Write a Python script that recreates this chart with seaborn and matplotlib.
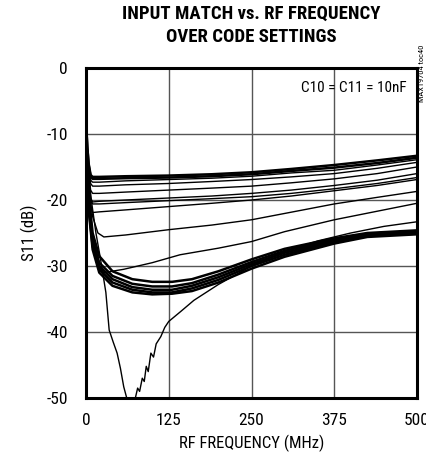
import pandas as pd
import seaborn as sns
import matplotlib
matplotlib.use('Agg')
import matplotlib.pyplot as plt
from matplotlib import font_manager

# flat group of curves (upper code settings)
flat_freq = [0.5, 2, 4, 7, 10, 20, 60, 125, 190, 250, 310, 375, 440, 500]
flat_1 = [-9.0, -12.0, -14.5, -16.2, -16.5, -16.5, -16.4, -16.3, -16.1, -15.8, -15.3, -14.7, -14.0, -13.3]
flat_2 = [-9.0, -12.0, -14.7, -16.5, -16.8, -16.8, -16.7, -16.6, -16.4, -16.1, -15.6, -15.1, -14.4, -13.6]
flat_3 = [-9.2, -12.3, -15.0, -17.0, -17.3, -17.3, -17.1, -16.9, -16.7, -16.4, -15.9, -15.5, -14.7, -13.9]
flat_4 = [-9.3, -12.5, -15.3, -17.5, -17.9, -17.9, -17.7, -17.5, -17.2, -16.9, -16.5, -16.0, -15.2, -14.3]
flat_5 = [-9.5, -13.0, -16.0, -18.5, -19.0, -19.0, -18.8, -18.5, -18.2, -17.9, -17.4, -16.8, -16.0, -15.0]
flat_6 = [-9.6, -13.3, -16.5, -19.7, -20.3, -20.2, -20.0, -19.7, -19.4, -19.0, -18.5, -17.8, -17.0, -16.0]
flat_7 = [-9.6, -13.4, -16.7, -20.0, -20.6, -20.6, -20.4, -20.1, -19.8, -19.5, -19.0, -18.3, -17.5, -16.6]
flat_8 = [-9.8, -13.8, -17.2, -21.0, -21.9, -21.8, -21.5, -21.0, -20.5, -20.0, -19.4, -18.6, -17.8, -16.9]

# two intermediate curves
mid_freq_a = [0.5, 2, 5, 10, 18, 27, 60, 125, 190, 250, 323, 375, 440, 500]
mid_a = [-10.5, -14.0, -19.0, -22.5, -25.0, -25.6, -25.3, -24.5, -23.8, -23.0, -21.6, -20.6, -19.6, -18.7]
mid_freq_b = [0.5, 2, 5, 10, 18, 27, 57, 100, 142, 200, 250, 300, 375, 440, 500]
mid_b = [-10.5, -15.0, -21.0, -26.0, -30.0, -31.0, -30.5, -29.5, -28.3, -27.3, -26.3, -24.8, -23.0, -21.7, -20.5]

# thick bundle of low settings
bundle_freq = [0.5, 5, 10, 20, 40, 70, 100, 130, 160, 200, 250, 300, 375, 425, 500]
bundle_1 = [-11.0, -20.0, -25.0, -28.5, -30.8, -32.0, -32.4, -32.4, -32.0, -30.8, -29.0, -27.4, -25.8, -25.0, -24.6]
bundle_2 = [-11.0, -21.0, -26.0, -29.5, -31.5, -32.7, -33.1, -33.1, -32.6, -31.3, -29.4, -27.7, -26.0, -25.1, -24.8]
bundle_3 = [-11.0, -21.5, -26.5, -30.0, -32.0, -33.2, -33.6, -33.6, -33.0, -31.7, -29.7, -28.0, -26.2, -25.3, -25.0]
bundle_4 = [-11.0, -22.0, -27.0, -30.5, -32.5, -33.6, -34.0, -34.0, -33.4, -32.1, -30.0, -28.3, -26.4, -25.4, -25.1]
bundle_5 = [-11.0, -22.5, -27.5, -31.0, -33.0, -34.0, -34.3, -34.2, -33.8, -32.5, -30.4, -28.6, -26.6, -25.6, -25.2]

# deep resonance curve
deep_freq = [0.5, 3, 8, 15, 22, 30, 35, 41, 47, 52, 57, 61, 64, 72, 75, 78, 81, 85, 88, 91, 94, 98, 102, 106,
             113, 119, 125, 143, 163, 200, 250, 300, 350, 400, 450, 500]
deep = [-11.0, -15.0, -20.0, -25.0, -29.0, -34.0, -39.7, -41.5, -43.2, -45.5, -48.3, -49.8, -51.0, -51.0, -49.8,
        -48.5, -49.0, -47.0, -47.5, -45.2, -46.0, -43.2, -43.8, -41.8, -40.7, -39.3, -38.4, -36.9, -35.2, -32.8,
        -30.0, -27.8, -26.2, -25.0, -24.0, -23.3]

x_ticks = [0, 125, 250, 375, 500]
y_ticks = [0, -10, -20, -30, -40, -50]


def make_df(curves):
    rows = []
    for name, (fr, vals) in curves.items():
        for a, b in zip(fr, vals):
            rows.append({'curve': name, 'freq': a, 's11': b})
    return pd.DataFrame(rows)


def pick_font():
    names = {f.name for f in font_manager.fontManager.ttflist}
    for n in ['Roboto Condensed', 'Liberation Sans Narrow', 'Liberation Sans', 'DejaVu Sans']:
        if n in names:
            return n
    return 'DejaVu Sans'


def main():
    sns.set_style('white')
    fam = pick_font()
    plt.rcParams['font.family'] = [fam, 'DejaVu Sans']
    plt.rcParams['axes.unicode_minus'] = False

    thin = make_df({
        'f3': (flat_freq, flat_3), 'f4': (flat_freq, flat_4), 'f5': (flat_freq, flat_5),
        'f6': (flat_freq, flat_6), 'f7': (flat_freq, flat_7), 'f8': (flat_freq, flat_8),
        'ma': (mid_freq_a, mid_a), 'mb': (mid_freq_b, mid_b), 'deep': (deep_freq, deep),
    })
    thick = make_df({
        'f1': (flat_freq, flat_1), 'f2': (flat_freq, flat_2),
        'b1': (bundle_freq, bundle_1), 'b2': (bundle_freq, bundle_2), 'b3': (bundle_freq, bundle_3),
        'b4': (bundle_freq, bundle_4), 'b5': (bundle_freq, bundle_5),
    })

    fig = plt.figure(figsize=(4.27, 4.59), dpi=100)
    ax = fig.add_axes([0.2014, 0.1329, 0.7752, 0.7190])

    sns.lineplot(data=thin, x='freq', y='s11', units='curve', estimator=None,
                 color='black', linewidth=1.0, ax=ax, legend=False, sort=False)
    sns.lineplot(data=thick, x='freq', y='s11', units='curve', estimator=None,
                 color='black', linewidth=1.8, ax=ax, legend=False, sort=False)

    ax.set_xlim(0, 500)
    ax.set_ylim(-50, 0)
    ax.set_xticks(x_ticks)
    ax.set_yticks(y_ticks)
    ax.grid(True, color='#555555', linewidth=1.0)
    ax.set_axisbelow(True)
    for s in ax.spines.values():
        s.set_linewidth(2.2)
        s.set_color('black')
    ax.tick_params(axis='x', length=0, labelsize=12.5, pad=11, colors='black')
    ax.tick_params(axis='y', length=0, labelsize=12.5, pad=13, colors='black')
    ax.set_xlabel('RF FREQUENCY (MHz)', fontdict={'size': 12}, labelpad=5, color='black')
    ax.set_ylabel('S11 (dB)', fontdict={'size': 12}, labelpad=6, color='black')

    ax.text(485, -3.0, 'C10 = C11 = 10nF', ha='right', va='center', fontsize=11, color='black')
    fig.text(0.988, 0.84, 'MAX19704 toc40', rotation=90, ha='center', va='center', fontsize=6,
             color='black')
    fig.suptitle('INPUT MATCH vs. RF FREQUENCY\nOVER CODE SETTINGS', x=0.589, y=0.99,
                 fontsize=13.5, fontweight='heavy', linespacing=1.4, color='black')

    fig.savefig('out.png', dpi=100)
    plt.close(fig)


if __name__ == '__main__':
    main()
